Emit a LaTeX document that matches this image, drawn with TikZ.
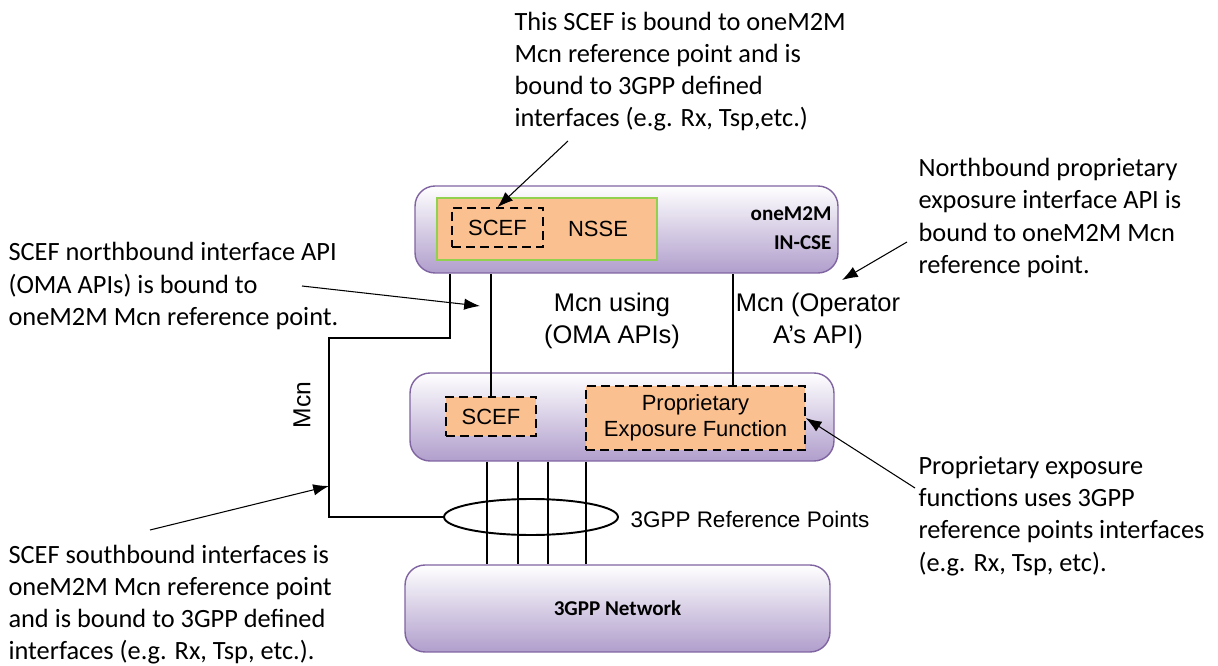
\documentclass[tikz,border=0pt]{standalone}
\usepackage{fontspec}
\setmainfont{Carlito}
\newfontfamily\labelfont{Liberation Sans}
\usetikzlibrary{shapes.geometric, calc, arrows.meta}
\definecolor{boxpurple}{RGB}{128,100,162}
\definecolor{boxlilac}{RGB}{176,158,204}
\definecolor{peach}{RGB}{250,192,144}
\definecolor{nssegreen}{RGB}{146,208,80}

\begin{document}
\begin{tikzpicture}[x=0.02cm, y=-0.02cm,
  >={Latex[length=9pt,width=6.5pt]},
  line width=0.6pt,
  entity/.style={
    rectangle,
    rounded corners=4mm,
    draw=boxpurple,
    line width=0.8pt,
    top color=white,
    bottom color=boxlilac,
    minimum width=8.46cm,
    minimum height=1.74cm
  },
  func/.style={
    rectangle,
    draw,
    dashed,
    dash pattern=on 5pt off 3pt,
    line width=0.9pt,
    fill=peach,
    align=center,
    inner sep=0pt,
    font=\labelfont\fontsize{12.5}{14.5}\selectfont
  },
  note/.style={
    anchor=west,
    align=left,
    inner sep=0pt,
    font=\fontsize{15}{18.3}\selectfont
  },
  lbl/.style={
    align=center,
    inner sep=0pt,
    font=\labelfont\fontsize{14.5}{18.2}\selectfont
  },
  arrow/.style={
    ->
  }
  ]

  \useasboundingbox (0,0) rectangle (1218,666);

  % boxes
  \node [entity] (incse) at (626.5,229.5) {};
  \node [entity, minimum width=8.48cm, minimum height=1.76cm] (expo) at (622,417) {};
  \node [entity, minimum width=8.5cm] (net) at (617.5,608.5)
    {\bfseries\fontsize{12}{14}\selectfont 3GPP Network};

  \node [rectangle, draw=nssegreen, line width=0.8pt, fill=peach,
    minimum width=4.4cm, minimum height=1.24cm] (nsse) at (547,229) {};
  \node [func, minimum width=1.82cm, minimum height=0.78cm] (sceftop) at (497.5,227.5) {SCEF};
  \node [lbl, font=\labelfont\fontsize{12.5}{14.5}\selectfont] (nssetext) at (598,229) {NSSE};
  \node [anchor=east, align=right, inner sep=0pt,
    font=\bfseries\fontsize{12}{16.4}\selectfont] (cselabel) at (832,228) {oneM2M\\IN-CSE};

  \node [func, minimum width=1.8cm, minimum height=0.78cm] (scefmid) at (491,416.5) {SCEF};
  \node [func, minimum width=4.38cm, minimum height=1.28cm] (pef) at (695.5,418)
    {Proprietary\\Exposure Function};

  \node [ellipse, draw, line width=1.1pt, minimum width=3.48cm, minimum height=0.72cm, inner sep=0pt] (refpts) at (531,517) {};
  \node [lbl, anchor=west, font=\labelfont\fontsize{12.8}{15}\selectfont] (reflabel) at (630,519) {3GPP Reference Points};

  % reference point lines
  \draw (scefmid.north) -- (scefmid.north |- incse.south);
  \draw (733,0 |- pef.north) -- (733,0 |- incse.south);
  \foreach \x in {487,518,548,586}
    \draw (\x,0 |- expo.south) -- (\x,0 |- net.north);

  \coordinate (bend) at (329,338);
  \draw (450,0 |- incse.south) |- (bend) |- (refpts.west);

  \node [lbl] (mcnoma) at (612,321) {Mcn using\\(OMA APIs)};
  \node [lbl] (mcnop) at (818,321) {Mcn (Operator\\A’s API)};
  \node [lbl, rotate=90, font=\labelfont\fontsize{14}{16}\selectfont] (mcn) at (302,405) {Mcn};

  % notes
  \node [note] (notetop) at (514,71.5) {This SCEF is bound to oneM2M\\Mcn reference point and is\\bound to 3GPP defined\\interfaces (e.g. Rx, Tsp,etc.)};
  \node [note] (notenorth) at (918,218) {Northbound proprietary\\exposure interface API is\\bound to oneM2M Mcn\\reference point.};
  \node [note] (noteoma) at (8,286) {SCEF northbound interface API\\(OMA APIs) is bound to\\oneM2M Mcn reference point.};
  \node [note] (notepef) at (918,516) {Proprietary exposure\\functions uses 3GPP\\reference points interfaces\\(e.g. Rx, Tsp, etc).};
  \node [note] (notesouth) at (8,604.5) {SCEF southbound interfaces is\\oneM2M Mcn reference point\\and is bound to 3GPP defined\\interfaces (e.g. Rx, Tsp, etc.).};

  \coordinate (omatip) at (480,306);
  \coordinate (southtip) at (329,486);
  \coordinate (northtip) at (842,280);

  \draw [arrow] (568,141) -- (sceftop.north);
  \draw [arrow] (907,242) -- (northtip);
  \draw [arrow] (302,286) -- (omatip);
  \draw [arrow] (915,488) -- (pef.east);
  \draw [arrow] (150,530) -- (southtip);

\end{tikzpicture}
\end{document}
